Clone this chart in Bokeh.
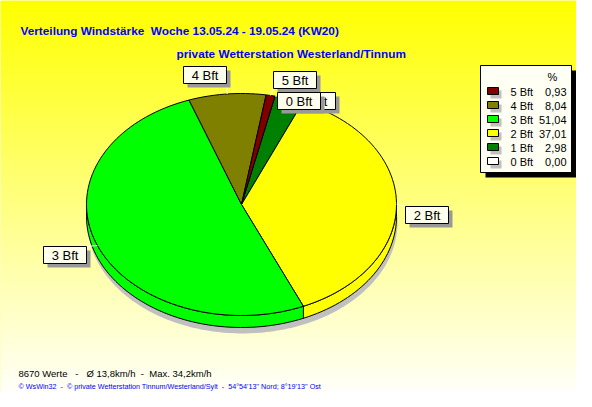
import numpy as np
from bokeh.plotting import figure
from bokeh.models import Range1d
from bokeh.embed import file_html
from bokeh.resources import INLINE
from bokeh.core.properties import value

# ---------------- data ----------------
categories = ["0 Bft", "1 Bft", "2 Bft", "3 Bft", "4 Bft", "5 Bft"]
percent = [0.00, 2.98, 37.01, 51.04, 8.04, 0.93]
percent_labels = ["0,00", "2,98", "37,01", "51,04", "8,04", "0,93"]
colors = ["#FFFFFF", "#008000", "#FFFF00", "#00FF00", "#808000", "#800000"]

NB = "\u00a0"
title = "Verteilung Windstärke" + NB + " Woche 13.05.24 - 19.05.24 (KW20)"
subtitle = "private Wetterstation Westerland/Tinnum"
stats = ("8670 Werte" + NB * 3 + "-" + NB * 3 + "Ø 13,8km/h" + NB * 2 + "-" + NB * 2
         + "Max. 34,2km/h")
footer = ("© WsWin32" + NB * 2 + "-" + NB * 2 + "© private Wetterstation Tinnum/Westerland/Sylt"
          + NB * 2 + "-" + NB * 2 + "54°54'13'' Nord; 8°19'13'' Ost")

# ---------------- layout ----------------
W, H = 576, 391
SANS = value("Liberation Sans")

p = figure(width=W, height=H, x_range=Range1d(0, W), y_range=Range1d(H, 0),
           output_backend="svg", toolbar_location=None, min_border=0,
           x_axis_location=None, y_axis_location=None)
p.grid.visible = False
p.outline_line_color = None
p.background_fill_color = "#FFFF80"
p.border_fill_color = "#FFFF80"

# background gradient (yellow -> pale)
edges = np.linspace(0, H, 90)
tops, bots, fills = [], [], []
for a, b in zip(edges[:-1], edges[1:]):
    m = (a + b) / 2
    blue = int(np.clip(255 * m / 400, 0, 248))
    tops.append(a); bots.append(b + 0.6)
    fills.append("#FFFF%02X" % blue)
p.quad(left=0, right=W, top=tops, bottom=bots, fill_color=fills, line_color=None)

# ---------------- pie ----------------
cx, cy, rx, ry, depth = 241, 204, 155, 111, 12
start = 12.5


def arc(a0, a1, dy=0.0, n=None):
    if n is None:
        n = max(2, int(abs(a1 - a0) / 2) + 2)
    t = np.radians(np.linspace(a0, a1, n))
    return list(cx + rx * np.sin(t)), list(cy + dy - ry * np.cos(t))

# shadow
sx, sy = arc(0, 360, n=180)
p.patch([x + 1 for x in sx], [y + depth + 6 for y in sy], fill_color="#C0C0C0", line_color=None)

angles = []
acc = start
for v in percent:
    a0 = acc
    a1 = acc + v * 3.6
    angles.append((a0, a1))
    acc = a1

# side walls (visible front half 90..270)
for (a0, a1), c, v in zip(angles, colors, percent):
    if v <= 0:
        continue
    for off in (0, 360):
        b0 = max(a0, 90 + off)
        b1 = min(a1, 270 + off)
        if b1 > b0:
            tx, ty = arc(b0, b1)
            bx, by = arc(b1, b0, dy=depth)
            p.patch(tx + bx, ty + by, fill_color=c, line_color="black", line_width=1)

# top face slices
for (a0, a1), c, v in zip(angles, colors, percent):
    if v <= 0:
        continue
    ax, ay = arc(a0, a1)
    p.patch([cx] + ax + [cx], [cy] + ay + [cy], fill_color=c, line_color="black", line_width=1)

# ---------------- slice labels ----------------
box_pos = {"0 Bft": (277, 92), "1 Bft": (292, 92), "2 Bft": (405, 206),
           "3 Bft": (43, 246), "4 Bft": (183, 66), "5 Bft": (273, 71)}
box_w, box_h = 43, 17
for cat, (a0, a1) in zip(categories, angles):
    mid = (a0 + a1) / 2
    t = np.radians(mid)
    ex, ey = cx + rx * np.sin(t), cy - ry * np.cos(t)
    bxl, byt = box_pos[cat]
    tx = min(max(ex, bxl), bxl + box_w)
    ty = min(max(ey, byt), byt + box_h)
    p.line([ex, tx], [ey, ty], line_color="white", line_width=1)

for cat in reversed(categories):
    bxl, byt = box_pos[cat]
    p.quad(left=bxl + 4, right=bxl + box_w + 4, top=byt + 4, bottom=byt + box_h + 4,
           fill_color="#999999", line_color=None)
    p.quad(left=bxl, right=bxl + box_w, top=byt, bottom=byt + box_h,
           fill_color="#FFFFEE", line_color="black", line_width=1)
    p.text(x=[bxl + box_w / 2], y=[byt + box_h / 2 + 0.5], text=[cat], text_font=SANS,
           text_font_size="13px", text_color="black", text_align="center", text_baseline="middle")

# ---------------- legend ----------------
lx0, ly0, lx1, ly1 = 480, 65, 571, 172
p.quad(left=lx0 + 5, right=lx1 + 5, top=ly0 + 5, bottom=ly1 + 5, fill_color="black", line_color=None)
p.quad(left=lx0, right=lx1, top=ly0, bottom=ly1, fill_color="#FFFFF4", line_color="black", line_width=1)
p.text(x=[552], y=[76], text=["%"], text_font=SANS, text_font_size="11px",
       text_color="black", text_align="center", text_baseline="middle")
order = list(range(len(categories)))[::-1]
for row, i in enumerate(order):
    yc = 91 + 14 * row
    p.quad(left=490, right=501, top=yc - 1, bottom=yc + 7, fill_color="#C0C0C0", line_color=None)
    p.quad(left=487, right=498, top=yc - 4, bottom=yc + 3, fill_color=colors[i],
           line_color="black", line_width=1)
    p.text(x=[510], y=[yc], text=[categories[i]], text_font=SANS, text_font_size="11px",
           text_color="black", text_align="left", text_baseline="middle")
    p.text(x=[566], y=[yc], text=[percent_labels[i]], text_font=SANS, text_font_size="11px",
           text_color="black", text_align="right", text_baseline="middle")

# ---------------- titles & footer ----------------
p.text(x=[20], y=[30], text=[title], text_font=SANS, text_font_style="bold",
       text_font_size="11.8px", text_color="#0000FF", text_baseline="alphabetic")
p.text(x=[176], y=[53], text=[subtitle], text_font=SANS, text_font_style="bold",
       text_font_size="11.8px", text_color="#0000FF", text_baseline="alphabetic")
p.text(x=[18], y=[373], text=[stats], text_font=SANS, text_font_size="9.5px",
       text_color="black", text_baseline="alphabetic")
p.text(x=[18], y=[386], text=[footer], text_font=SANS, text_font_size="7.2px",
       text_color="#0000FF", text_baseline="alphabetic")

open("out.html", "w").write(file_html(p, INLINE))
